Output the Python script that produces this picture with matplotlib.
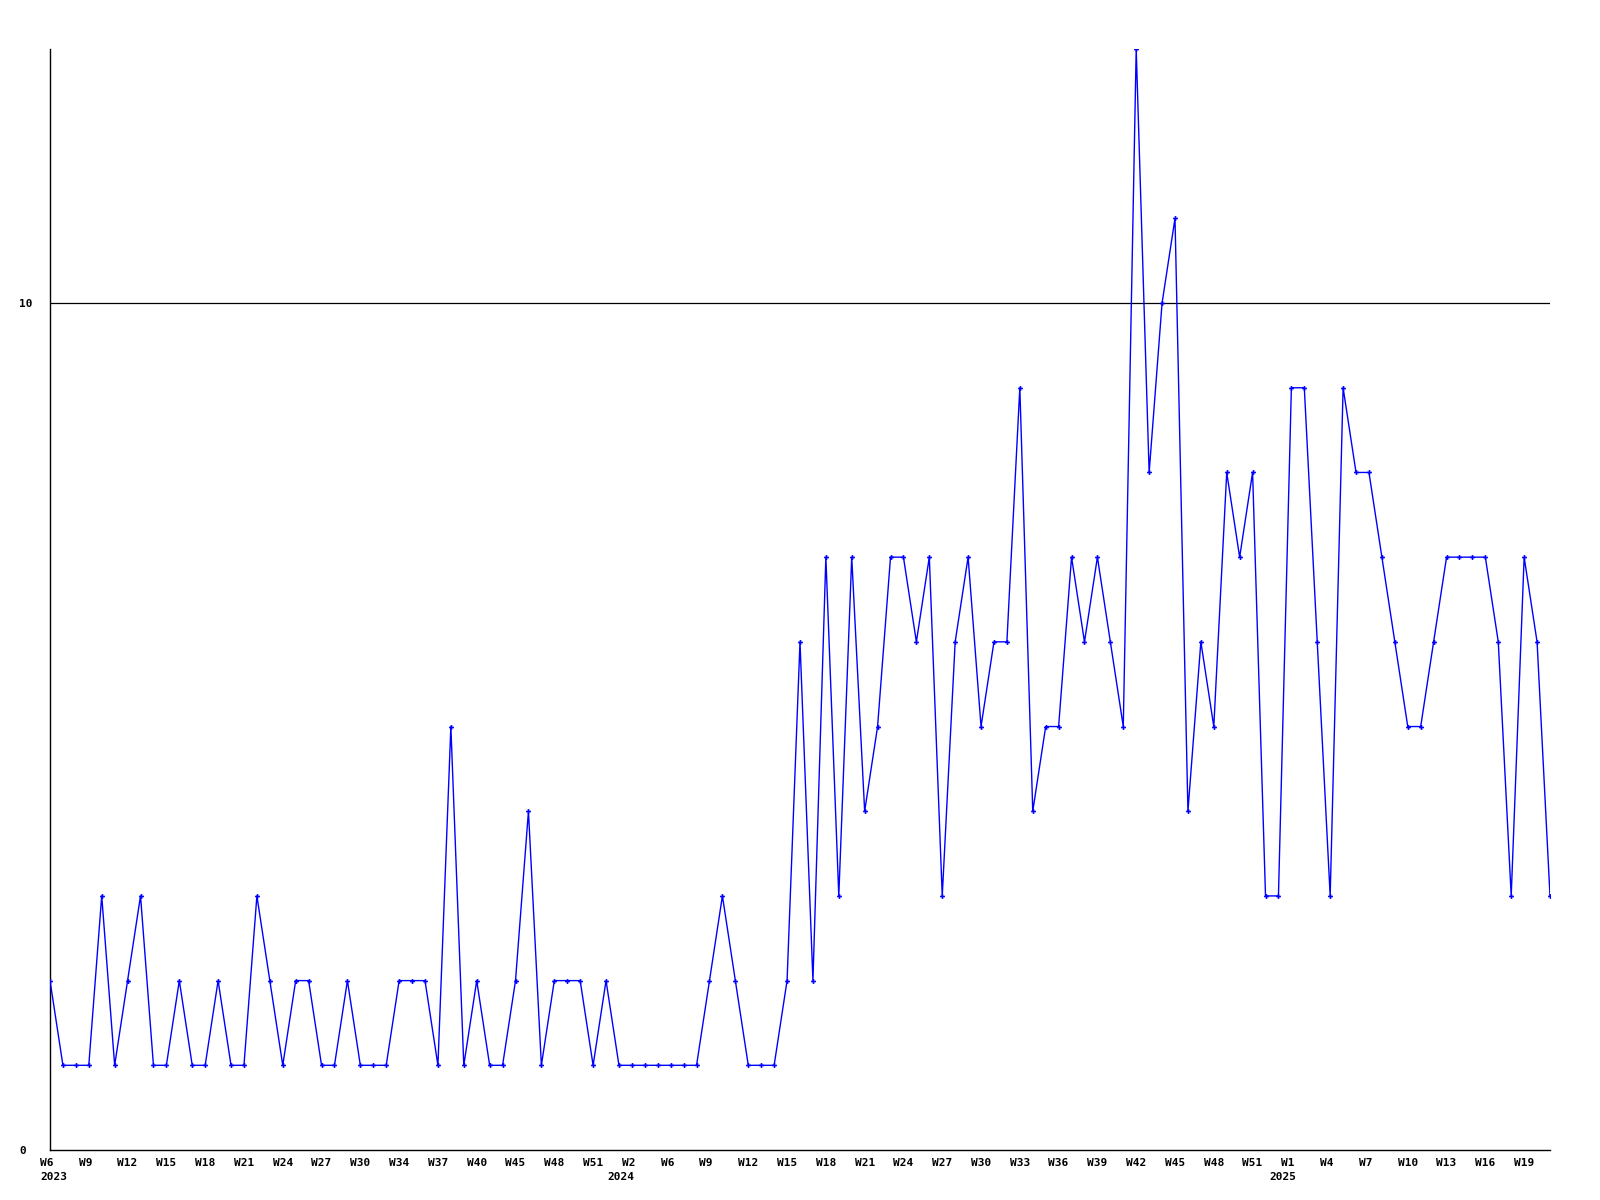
import matplotlib
matplotlib.use("Agg")

import matplotlib.pyplot as plt
import matplotlib.transforms as mtransforms


# weekly counts, 2023 W6 .. 2025 W21
values = [
    2, 1, 1, 1, 3, 1, 2, 3, 1, 1, 2, 1, 1, 2, 1, 1, 3, 2, 1, 2,
    2, 1, 1, 2, 1, 1, 1, 2, 2, 2, 1, 5, 1, 2, 1, 1, 2, 4, 1, 2,
    2, 2, 1, 2, 1, 1, 1, 1, 1, 1, 1, 2, 3, 2, 1, 1, 1, 2, 6, 2,
    7, 3, 7, 4, 5, 7, 7, 6, 7, 3, 6, 7, 5, 6, 6, 9, 4, 5, 5, 7,
    6, 7, 6, 5, 13, 8, 10, 11, 4, 6, 5, 8, 7, 8, 3, 3, 9, 9, 6, 3,
    9, 8, 8, 7, 6, 5, 5, 6, 7, 7, 7, 7, 6, 3, 7, 6, 3,
]

# one label for every third week
week_labels = [
    "W6", "W9", "W12", "W15", "W18", "W21", "W24", "W27", "W30", "W34",
    "W37", "W40", "W45", "W48", "W51",
    "W2", "W6", "W9", "W12", "W15", "W18", "W21", "W24", "W27", "W30",
    "W33", "W36", "W39", "W42", "W45", "W48", "W51",
    "W1", "W4", "W7", "W10", "W13", "W16", "W19",
]
year_labels = ["2023", "2024", "2025"]
year_label_pos = [0, 15, 32]   # index into week_labels
year_shift_px = [4, -11, -9]   # the old renderer puts them a bit off the tick

x = list(range(len(values)))

fig = plt.figure(figsize=(16, 12), dpi=100)
ax = fig.add_axes([50 / 1600, 1 - 1150 / 1200, 1500 / 1600, 1101 / 1200])

font = {"family": "DejaVu Sans Mono", "weight": "bold", "size": 8}

ax.axhline(10, color="black", linewidth=0.9, zorder=1)
ax.plot(x, values, color="#0000ff", linewidth=1.0, marker="P",
        markersize=3.5, markeredgewidth=0, zorder=3)

ax.set_xlim(0, len(values) - 1)
ax.set_ylim(0, 13)

for side in ["top", "right"]:
    ax.spines[side].set_visible(False)
for side in ["left", "bottom"]:
    ax.spines[side].set_color("black")
    ax.spines[side].set_linewidth(1.0)

ax.set_yticks([0, 10])
ax.set_yticklabels(["0", "10"], fontdict=font, ha="left")
ax.tick_params(axis="y", length=0, pad=31 * 0.72)

tick_pos = list(range(0, len(values), 3))[:len(week_labels)]
ax.set_xticks(tick_pos)
# pad short labels so they sit like the original (monospace, centred on 3 chars)
ax.set_xticklabels([w.ljust(3) for w in week_labels], fontdict=font)
ax.tick_params(axis="x", length=0, pad=6)

trans = mtransforms.blended_transform_factory(ax.transData, ax.transAxes)
for label, k, dx in zip(year_labels, year_label_pos, year_shift_px):
    t = trans + mtransforms.ScaledTranslation(dx / 100, 0, fig.dpi_scale_trans)
    ax.text(tick_pos[k], -27 / 1101, label, transform=t, ha="center",
            va="center", **font)

fig.savefig("out.png", dpi=100, facecolor="white")
